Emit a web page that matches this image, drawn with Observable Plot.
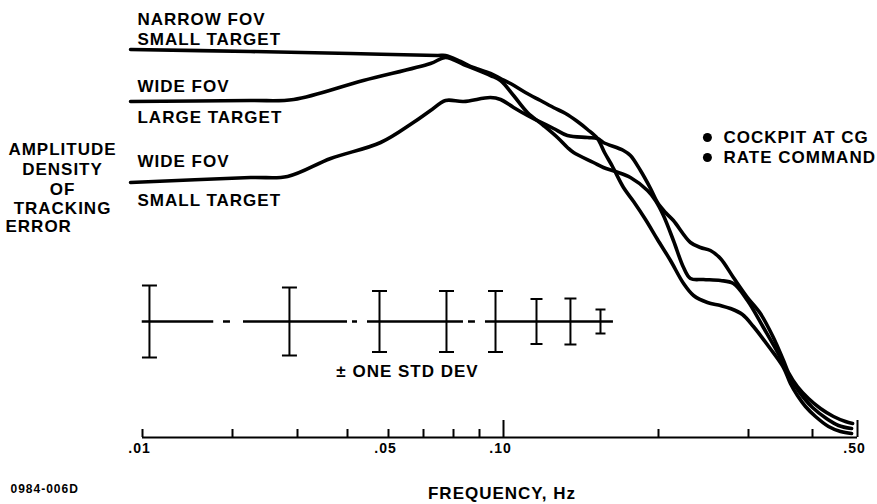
<!DOCTYPE html>
<html>
<head>
<meta charset="utf-8">
<script src="https://cdn.jsdelivr.net/npm/d3@7"></script>
<script src="https://cdn.jsdelivr.net/npm/@observablehq/plot@0.6"></script>
<style>
  html, body { margin: 0; padding: 0; background: #fff; }
  #chart svg { display: block; }
</style>
</head>
<body>
<div id="chart"></div>
<script>
// Frequency axis ticks (Hz) and the ones that carry labels
const xTicks = [0.01, 0.02, 0.03, 0.04, 0.05, 0.06, 0.07, 0.08, 0.1, 0.2, 0.3, 0.4, 0.5];
const xLabelTicks = [0.01, 0.05, 0.1, 0.5];
const xLongTicks = [0.1, 0.5];

// Amplitude density of tracking error (arbitrary units) vs frequency
const narrowFreq = [0.00912, 0.0224, 0.0407, 0.0645, 0.0672, 0.0726, 0.0775, 0.0886, 0.0973, 0.1032,
  0.1103, 0.118, 0.1262, 0.132, 0.1392, 0.1456, 0.1522, 0.1571, 0.1628, 0.171,
  0.1789, 0.1887, 0.1991, 0.2111, 0.2239, 0.2342, 0.2493, 0.2644, 0.2765, 0.2919,
  0.3067, 0.3296, 0.3511, 0.3622, 0.3738, 0.3876, 0.406, 0.433, 0.4596, 0.4855];
const narrowAmp = [38.8, 38.6, 38.4, 38.2, 38.2, 37.6, 37.0, 36.4, 35.9, 35.4,
  34.5, 33.7, 32.9, 32.4, 31.6, 30.8, 29.9, 28.5, 27.1, 25.0,
  23.6, 21.8, 19.8, 17.7, 15.4, 14.2, 13.5, 13.2, 12.9, 12.3,
  11.1, 9.0, 7.0, 5.4, 4.2, 3.1, 2.1, 1.1, 0.6, 0.4];

const wideLargeFreq = [0.00912, 0.0224, 0.0293, 0.0436, 0.0622, 0.0672, 0.0737, 0.0886, 0.0973, 0.1046, 0.1113,
  0.1196, 0.1273, 0.1331, 0.1368, 0.1495, 0.1563, 0.165, 0.1764, 0.1904, 0.1973,
  0.2045, 0.2139, 0.2239, 0.231, 0.2449, 0.2644, 0.2803, 0.2986, 0.3208, 0.3463,
  0.3574, 0.3705, 0.3841, 0.4, 0.4285, 0.455, 0.4855];
const wideLargeAmp = [33.6, 33.7, 33.8, 35.7, 37.4, 38.0, 37.3, 36.2, 35.7, 34.2, 32.5,
  31.2, 30.0, 29.0, 28.5, 27.5, 27.0, 26.6, 26.0, 24.7, 23.7,
  22.2, 19.7, 17.0, 15.9, 15.8, 15.7, 15.4, 13.7, 11.0, 8.0,
  6.5, 5.1, 4.0, 3.0, 1.9, 1.2, 0.9];

const wideSmallFreq = [0.00912, 0.0224, 0.0282, 0.0363, 0.0479, 0.0569, 0.0622, 0.0672, 0.0737, 0.0886, 0.0973,
  0.1046, 0.1113, 0.1164, 0.1251, 0.1331, 0.1456, 0.1522, 0.1563, 0.171, 0.1764,
  0.1845, 0.193, 0.1991, 0.2064, 0.2139, 0.231, 0.2416, 0.2527, 0.2644, 0.2803,
  0.2986, 0.3165, 0.3355, 0.3511, 0.359, 0.3738, 0.3928, 0.4161, 0.4439, 0.471, 0.4879];
const wideSmallAmp = [25.5, 26.0, 26.1, 27.9, 29.5, 31.5, 32.7, 33.7, 33.6, 34.0, 33.8,
  33.0, 32.2, 31.7, 30.9, 30.2, 30.0, 29.9, 29.5, 28.7, 28.2,
  26.7, 24.9, 23.5, 22.5, 21.7, 19.5, 19.0, 18.7, 17.9, 16.0,
  14.0, 12.4, 10.0, 7.7, 6.5, 5.1, 3.9, 2.9, 2.1, 1.6, 1.4];

// ± one standard deviation bars
const sdFreq = [0.01055, 0.02853, 0.04761, 0.06752, 0.09284, 0.1159, 0.1349, 0.1543];
const sdHalf = [3.6, 3.4, 3.05, 3.05, 3.05, 2.25, 2.3, 1.2];
const sdLevel = 11.6;
const sdLineSegments = [[0.00998, 0.01731], [0.01866, 0.01969], [0.02142, 0.04], [0.0411, 0.04224],
  [0.0446, 0.07368], [0.0756, 0.07835], [0.08456, 0.1635]];

const legendLines = ["COCKPIT AT CG", "RATE COMMAND"];

// Build one long table for the line mark
const series = [
  ["Narrow FOV, small target", narrowFreq, narrowAmp],
  ["Wide FOV, large target", wideLargeFreq, wideLargeAmp],
  ["Wide FOV, small target", wideSmallFreq, wideSmallAmp]
];
const curves = series.flatMap(([name, fs, as]) => fs.map((f, i) => ({name, f, a: as[i]})));
const bars = sdFreq.map((f, i) => ({f, lo: sdLevel - sdHalf[i], hi: sdLevel + sdHalf[i], half: sdHalf[i]}));

// Horizontal cap drawn at each end of a deviation bar
const capSymbol = {draw(ctx, size) { const w = Math.sqrt(size / Math.PI); ctx.moveTo(-w, 0); ctx.lineTo(w, 0); }};
const caps = (filter, r) => [
  Plot.dot(bars, {x: "f", y: "lo", filter, symbol: capSymbol, r, fill: "none", stroke: "black", strokeWidth: 2}),
  Plot.dot(bars, {x: "f", y: "hi", filter, symbol: capSymbol, r, fill: "none", stroke: "black", strokeWidth: 2})
];

const FONT = 17;
const label = (text, x, y, opts = {}) =>
  Plot.text([text], {x, y, text: d => d, textAnchor: "start", lineAnchor: "middle", fontSize: FONT, ...opts});

const chart = Plot.plot({
  width: 877,
  height: 504,
  marginLeft: 140,
  marginRight: 14,
  marginTop: 37,
  marginBottom: 67,
  style: {
    fontFamily: '"Liberation Sans", Arial, Helvetica, sans-serif',
    fontWeight: "bold",
    letterSpacing: "1px",
    background: "#fff",
    color: "#000"
  },
  x: {type: "log", domain: xTicks, range: [142, 232, 297, 347, 388, 423, 453, 479, 503, 658, 748, 812, 857]},
  y: {domain: [0, 40], axis: null},
  marks: [
    // frequency axis: base line, upward ticks, labels
    Plot.ruleY([0], {x1: xTicks[0], x2: xTicks[xTicks.length - 1], stroke: "black", strokeWidth: 2}),
    Plot.ruleX(xTicks.filter(t => !xLongTicks.includes(t)), {x: d => d, y1: 0, y2: 0.8, stroke: "black", strokeWidth: 2}),
    Plot.ruleX(xLongTicks, {x: d => d, y1: 0, y2: 1.7, stroke: "black", strokeWidth: 2}),
    Plot.axisX({ticks: xLabelTicks, tickSize: 0, tickPadding: 6, dx: -3, fontSize: 14,
      tickFormat: d => d3.format(".2f")(d).replace(/^0/, ""), label: null}),

    // response curves
    Plot.line(curves, {x: "f", y: "a", z: "name", curve: "catmull-rom", stroke: "black",
      strokeWidth: 3.6, strokeLinejoin: "round", strokeLinecap: "round"}),

    // standard deviation bars
    Plot.ruleY(sdLineSegments, {y: sdLevel, x1: d => d[0], x2: d => d[1], stroke: "black", strokeWidth: 2.5}),
    Plot.ruleX(bars, {x: "f", y1: "lo", y2: "hi", stroke: "black", strokeWidth: 2}),
    ...caps(d => d.half >= 2.5, 7.5),
    ...caps(d => d.half >= 2 && d.half < 2.5, 6),
    ...caps(d => d.half < 2, 5),
    Plot.text(["± ONE STD DEV"], {x: 0.0552, y: 6.55, text: d => d, fontSize: FONT, lineAnchor: "middle"}),

    // curve labels
    label("NARROW FOV", 0.00962, 41.8),
    label("SMALL TARGET", 0.00962, 39.8),
    label("WIDE FOV", 0.00962, 35.05),
    label("LARGE TARGET", 0.00962, 31.95),
    label("WIDE FOV", 0.00962, 27.55),
    label("SMALL TARGET", 0.00962, 23.7),

    // test conditions
    Plot.dot(legendLines, {x: 0.2493, y: (d, i) => 30 - 2 * i, r: 4.5, fill: "black", stroke: "none"}),
    Plot.text(legendLines, {x: 0.2681, y: (d, i) => 30 - 2 * i, text: d => d, textAnchor: "start", lineAnchor: "middle", fontSize: FONT}),

    // vertical title
    Plot.text(["AMPLITUDE\nDENSITY\nOF\nTRACKING"], {frameAnchor: "left", y: 25.9, dx: -78, text: d => d,
      textAnchor: "middle", lineAnchor: "middle", lineHeight: 1.15, fontSize: FONT}),
    Plot.text(["ERROR"], {frameAnchor: "left", y: 21.1, dx: -135, text: d => d,
      textAnchor: "start", lineAnchor: "middle", fontSize: FONT}),

    // axis title and figure number
    Plot.text(["FREQUENCY, Hz"], {frameAnchor: "bottom", dy: 56, text: d => d, lineAnchor: "middle", fontSize: 17}),
    Plot.text(["0984-006D"], {frameAnchor: "bottom-left", dx: -130, dy: 52, text: d => d,
      textAnchor: "start", lineAnchor: "middle", fontSize: 12})
  ]
});

document.getElementById("chart").append(chart);
</script>
</body>
</html>
